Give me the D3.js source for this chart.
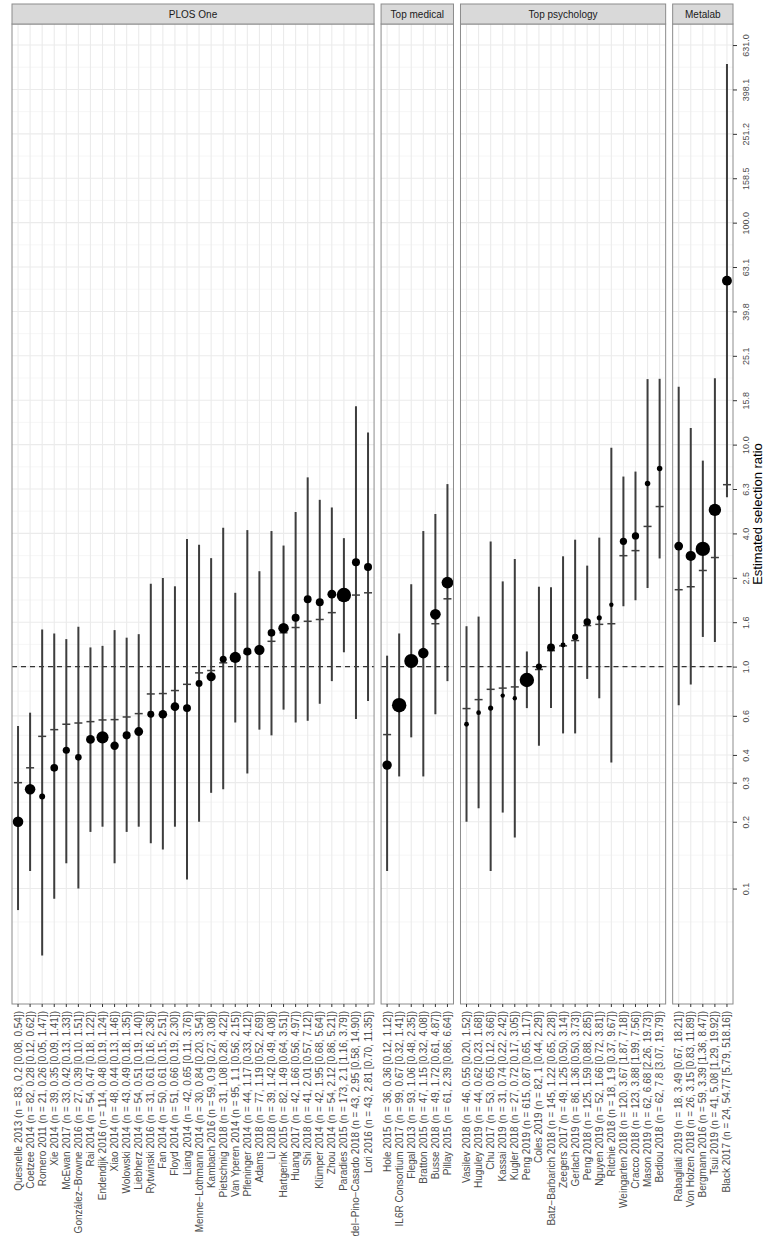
<!DOCTYPE html>
<html>
<head>
<meta charset="utf-8">
<script src="https://cdn.jsdelivr.net/npm/d3@7"></script>
<style>
  body { margin: 0; background: #fff; }
  text { font-family: "Liberation Sans", Arial, sans-serif; }
</style>
</head>
<body>
<div id="chart-area"></div>
<script>
// facets, left to right
var panels = ["PLOS One", "Top medical", "Top psychology", "Metalab"];

var studies = [
  "Quesnelle 2013", "Coetzee 2014", "Romero 2011", "Xie 2014", "McEwan 2017",
  "González−Browne 2016", "Rai 2014", "Endendijk 2016", "Xiao 2014", "Wolowski 2014",
  "Liebherz 2014", "Rytwinski 2016", "Fan 2014", "Floyd 2014", "Liang 2014",
  "Menne−Lothmann 2014", "Kambach 2016", "Pietschnig 2018", "Van Yperen 2014", "Pfleninger 2014",
  "Adams 2018", "Li 2018", "Hartgerink 2015", "Huang 2017", "Shi 2018",
  "Klümper 2014", "Zhou 2014", "Paradies 2015", "del−Pino−Casado 2018", "Lori 2016",
  "Hole 2015", "IL6R Consortium 2017", "Flegal 2013", "Bratton 2015", "Busse 2018", "Pillay 2015",
  "Vasilev 2018", "Huguley 2019", "Chu 2017", "Kassai 2019", "Kugler 2018", "Peng 2019",
  "Coles 2019", "Batz−Barbarich 2018", "Zeegers 2017", "Gerlach 2019", "Peng 2018",
  "Nguyen 2019", "Ritchie 2018", "Weingarten 2018", "Cracco 2018", "Mason 2019", "Bediou 2018",
  "Rabagliati 2019", "Von Holzen 2018", "Bergmann 2016", "Tsui 2019", "Black 2017"
];

var journal = [
  "PLOS One", "PLOS One", "PLOS One", "PLOS One", "PLOS One", "PLOS One", "PLOS One", "PLOS One",
  "PLOS One", "PLOS One", "PLOS One", "PLOS One", "PLOS One", "PLOS One", "PLOS One", "PLOS One",
  "PLOS One", "PLOS One", "PLOS One", "PLOS One", "PLOS One", "PLOS One", "PLOS One", "PLOS One",
  "PLOS One", "PLOS One", "PLOS One", "PLOS One", "PLOS One", "PLOS One",
  "Top medical", "Top medical", "Top medical", "Top medical", "Top medical", "Top medical",
  "Top psychology", "Top psychology", "Top psychology", "Top psychology", "Top psychology",
  "Top psychology", "Top psychology", "Top psychology", "Top psychology", "Top psychology",
  "Top psychology", "Top psychology", "Top psychology", "Top psychology", "Top psychology",
  "Top psychology", "Top psychology",
  "Metalab", "Metalab", "Metalab", "Metalab", "Metalab"
];

var nObs = [
  83, 82, 21, 39, 33, 27, 54, 114, 48, 43, 54, 31, 50, 51, 42, 30, 59, 31, 95, 44,
  77, 39, 82, 42, 41, 42, 54, 173, 43, 43,
  36, 99, 93, 47, 49, 61,
  46, 44, 53, 31, 27, 615, 82, 145, 49, 86, 125, 52, 18, 120, 123, 62, 62,
  18, 26, 59, 41, 24
];

var estimate = [
  0.2, 0.28, 0.26, 0.35, 0.42, 0.39, 0.47, 0.48, 0.44, 0.49, 0.51, 0.61, 0.61, 0.66, 0.65,
  0.84, 0.9, 1.08, 1.1, 1.17, 1.19, 1.42, 1.49, 1.66, 2.01, 1.95, 2.12, 2.1, 2.95, 2.81,
  0.36, 0.67, 1.06, 1.15, 1.72, 2.39,
  0.55, 0.62, 0.65, 0.74, 0.72, 0.87, 1, 1.22, 1.25, 1.36, 1.59, 1.66, 1.9, 3.67, 3.88, 6.68, 7.8,
  3.49, 3.15, 3.39, 5.08, 54.77
];

var lower = [
  0.08, 0.12, 0.05, 0.09, 0.13, 0.10, 0.18, 0.19, 0.13, 0.18, 0.19, 0.16, 0.15, 0.19, 0.11,
  0.20, 0.27, 0.28, 0.56, 0.33, 0.52, 0.49, 0.64, 0.56, 0.57, 0.68, 0.86, 1.16, 0.58, 0.70,
  0.12, 0.32, 0.48, 0.32, 0.61, 0.86,
  0.20, 0.23, 0.12, 0.22, 0.17, 0.65, 0.44, 0.65, 0.50, 0.50, 0.88, 0.72, 0.37, 1.87, 1.99, 2.26, 3.07,
  0.67, 0.83, 1.36, 1.29, 5.79
];

var upper = [
  0.54, 0.62, 1.47, 1.41, 1.33, 1.51, 1.22, 1.24, 1.46, 1.35, 1.40, 2.36, 2.51, 2.30, 3.76,
  3.54, 3.08, 4.22, 2.15, 4.12, 2.69, 4.08, 3.51, 4.97, 7.12, 5.64, 5.21, 3.79, 14.90, 11.35,
  1.12, 1.41, 2.35, 4.08, 4.87, 6.64,
  1.52, 1.68, 3.66, 2.42, 3.05, 1.17, 2.29, 2.28, 3.14, 3.73, 2.85, 3.81, 9.67, 7.18, 7.56, 19.73, 19.79,
  18.21, 11.89, 8.47, 19.92, 518.16
];

// short horizontal marks (second estimate)
var expected = [
  0.30, 0.35, 0.485, 0.52, 0.55, 0.557, 0.565, 0.575, 0.577, 0.593, 0.614, 0.753, 0.756, 0.78, 0.832,
  0.937, 0.96, 1.04, 1.06, 1.15, 1.18, 1.3, 1.42, 1.5, 1.6, 1.63, 1.75, 2.0, 2.1, 2.15,
  0.494, 0.7, 1.05, 1.12, 1.56, 2.02,
  0.647, 0.71, 0.79, 0.8, 0.81, 0.84, 0.97, 1.18, 1.24, 1.31, 1.53, 1.55, 1.56, 3.16, 3.33, 4.28, 5.26,
  2.22, 2.29, 2.71, 3.1, 6.6
];

var yTicks = [0.1, 0.2, 0.3, 0.4, 0.6, 1, 1.585, 2.512, 3.981, 6.31, 10, 15.85, 25.12,
  39.81, 63.1, 100, 158.5, 251.2, 398.1, 631];

var width = 765, height = 1258;
var left = 12, right = 733, gap = 7;
var stripTop = 4, panelTop = 24, panelBottom = 1004;

var data = studies.map(function(s, i) {
  return {
    study: s, journal: journal[i], n: nObs[i], est: estimate[i],
    lo: lower[i], hi: upper[i], exp: expected[i],
    label: s + " (n = " + nObs[i] + ", " + estimate[i] + " [" + lower[i].toFixed(2) + ", " + upper[i].toFixed(2) + "])"
  };
});

var svg = d3.select("#chart-area").append("svg")
  .attr("width", width)
  .attr("height", height);

var y = d3.scaleLog()
  .domain([0.0302, 785])
  .range([panelBottom, panelTop]);

// minor breaks: midpoints (in log) between major breaks, plus one below
var ext = [0.05].concat(yTicks);
var minor = [];
for (var k = 0; k < ext.length - 1; k++) {
  minor.push(Math.sqrt(ext[k] * ext[k + 1]));
}

var unit = (right - left - gap * (panels.length - 1)) / data.length;
var x0 = left;

panels.forEach(function(p) {
  var rows = data.filter(function(d) { return d.journal == p; });
  var pw = rows.length * unit;

  var x = d3.scaleBand()
    .domain(rows.map(function(d) { return d.label; }))
    .range([x0, x0 + pw]);

  var r = d3.scalePow().exponent(0.42)
    .domain([0, d3.max(rows, function(d) { return d.n; })])
    .range([0, 7.2]);

  var g = svg.append("g");

  g.append("rect")
    .attr("x", x0).attr("y", panelTop)
    .attr("width", pw).attr("height", panelBottom - panelTop)
    .attr("fill", "#fff");

  g.selectAll(".minor").data(minor).enter().append("line")
    .attr("x1", x0).attr("x2", x0 + pw)
    .attr("y1", function(d) { return y(d); })
    .attr("y2", function(d) { return y(d); })
    .attr("stroke", "#f0f0f0").attr("stroke-width", 0.6);

  g.selectAll(".major").data(yTicks).enter().append("line")
    .attr("x1", x0).attr("x2", x0 + pw)
    .attr("y1", function(d) { return y(d); })
    .attr("y2", function(d) { return y(d); })
    .attr("stroke", "#ebebeb").attr("stroke-width", 1.1);

  g.selectAll(".vgrid").data(rows).enter().append("line")
    .attr("x1", function(d) { return x(d.label) + x.bandwidth() / 2; })
    .attr("x2", function(d) { return x(d.label) + x.bandwidth() / 2; })
    .attr("y1", panelTop).attr("y2", panelBottom)
    .attr("stroke", "#ebebeb").attr("stroke-width", 1.1);

  // reference line at 1
  g.append("line")
    .attr("x1", x0).attr("x2", x0 + pw)
    .attr("y1", y(1)).attr("y2", y(1))
    .attr("stroke", "#333").attr("stroke-width", 1.3)
    .attr("stroke-dasharray", "5,4");

  // intervals
  g.selectAll(".ci").data(rows).enter().append("line")
    .attr("x1", function(d) { return x(d.label) + x.bandwidth() / 2; })
    .attr("x2", function(d) { return x(d.label) + x.bandwidth() / 2; })
    .attr("y1", function(d) { return y(d.lo); })
    .attr("y2", function(d) { return y(d.hi); })
    .attr("stroke", "#3d3d3d").attr("stroke-width", 2);

  g.selectAll(".exp").data(rows).enter().append("line")
    .attr("x1", function(d) { return x(d.label) + x.bandwidth() / 2 - 4; })
    .attr("x2", function(d) { return x(d.label) + x.bandwidth() / 2 + 4; })
    .attr("y1", function(d) { return y(d.exp); })
    .attr("y2", function(d) { return y(d.exp); })
    .attr("stroke", "#3d3d3d").attr("stroke-width", 1.5);

  g.selectAll("circle").data(rows).enter().append("circle")
    .attr("cx", function(d) { return x(d.label) + x.bandwidth() / 2; })
    .attr("cy", function(d) { return y(d.est); })
    .attr("r", function(d) { return Math.max(2.2, r(d.n)); })
    .attr("fill", "#000");

  // panel border
  g.append("rect")
    .attr("x", x0).attr("y", panelTop)
    .attr("width", pw).attr("height", panelBottom - panelTop)
    .attr("fill", "none").attr("stroke", "#8c8c8c").attr("stroke-width", 1);

  // strip
  g.append("rect")
    .attr("x", x0).attr("y", stripTop)
    .attr("width", pw).attr("height", panelTop - stripTop)
    .attr("fill", "#d9d9d9").attr("stroke", "#8c8c8c").attr("stroke-width", 1);
  g.append("text")
    .attr("x", x0 + pw / 2).attr("y", (stripTop + panelTop) / 2)
    .attr("text-anchor", "middle").attr("dominant-baseline", "central")
    .attr("font-size", "10px").attr("fill", "#1a1a1a")
    .text(p);

  // study labels
  var xAxis = g.append("g")
    .attr("transform", "translate(0," + panelBottom + ")")
    .call(d3.axisBottom(x).tickSize(3).tickSizeOuter(0));
  xAxis.select(".domain").remove();
  xAxis.selectAll("line").attr("stroke", "#333");
  xAxis.selectAll("text")
    .attr("y", null).attr("dy", null)
    .attr("transform", "translate(0,7) rotate(-90)")
    .attr("text-anchor", "end")
    .attr("dominant-baseline", "central")
    .attr("font-family", "Liberation Sans, Arial, sans-serif")
    .attr("font-size", "10px")
    .attr("fill", "#4d4d4d");

  x0 += pw + gap;
});

var yAxis = svg.append("g")
  .attr("transform", "translate(" + right + ",0)")
  .call(d3.axisRight(y).tickValues(yTicks).tickSize(4).tickFormat(d3.format(".1f")));
yAxis.select(".domain").remove();
yAxis.selectAll("line").attr("stroke", "#333");
yAxis.selectAll("text")
  .attr("x", null).attr("dy", null)
  .attr("transform", "translate(13,0) rotate(-90)")
  .attr("text-anchor", "middle")
  .attr("dominant-baseline", "central")
  .attr("font-family", "Liberation Sans, Arial, sans-serif")
  .attr("font-size", "9px")
  .attr("fill", "#4d4d4d");

svg.append("text")
  .attr("transform", "translate(757," + (panelTop + panelBottom) / 2 + ") rotate(-90)")
  .attr("text-anchor", "middle")
  .attr("dominant-baseline", "central")
  .attr("font-size", "13px")
  .attr("fill", "#000")
  .text("Estimated selection ratio");
</script>
</body>
</html>
